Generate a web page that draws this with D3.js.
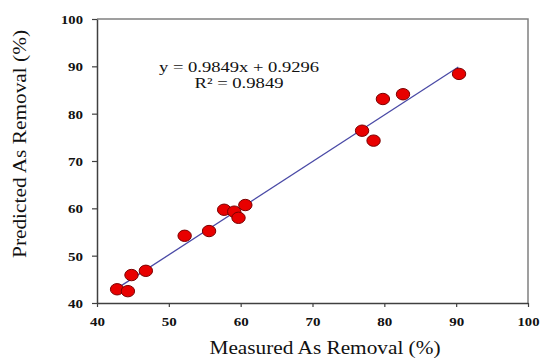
<!DOCTYPE html>
<html>
<head>
<meta charset="utf-8">
<script src="https://cdn.jsdelivr.net/npm/d3@7"></script>
<style>
  html, body { margin: 0; padding: 0; background: #fff; }
  svg { display: block; }
  svg text { font-family: "Liberation Serif", "Times New Roman", Times, serif; }
</style>
</head>
<body>
<svg id="chart" width="540" height="358"></svg>
<script>
// ---- data ----
const measured  = [42.8, 44.3, 44.8, 46.8, 52.2, 55.6, 57.7, 59.1, 59.7, 60.65, 76.9, 78.5, 79.8, 82.6, 90.4];
const predicted = [42.9, 42.5, 45.9, 46.8, 54.2, 55.2, 59.7, 59.3, 58.0, 60.7, 76.4, 74.3, 83.1, 84.1, 88.4];
const xTicks = [40, 50, 60, 70, 80, 90, 100];
const yTicks = [40, 50, 60, 70, 80, 90, 100];
const slope = 0.9849, intercept = 0.9296;
const fitRange = [42.8, 90.3];
const equationLines = ["y = 0.9849x + 0.9296", "R\u00B2 = 0.9849"];
const xTitle = "Measured As Removal (%)";
const yTitle = "Predicted As Removal (%)";

// ---- layout ----
const svg = d3.select("#chart");
const L = 97, T = 19, R = 528, B = 303;
const x = d3.scaleLinear().domain([40, 100]).range([L, R]);
const y = d3.scaleLinear().domain([40, 100]).range([B, T]);
const serif = "Liberation Serif, Times New Roman, Times, serif";

// frame (top & right)
svg.append("path")
  .attr("d", `M${L},${T}H${R}V${B}`)
  .attr("fill", "none").attr("stroke", "#808080").attr("stroke-width", 1.5);

// axes
const xAxis = svg.append("g").attr("transform", `translate(0,${B})`)
  .call(d3.axisBottom(x).tickValues(xTicks).tickSize(4).tickSizeOuter(0));
const yAxis = svg.append("g").attr("transform", `translate(${L},0)`)
  .call(d3.axisLeft(y).tickValues(yTicks).tickSize(5).tickSizeOuter(0));

[xAxis, yAxis].forEach(g => {
  g.attr("font-family", serif);
  g.select(".domain").attr("stroke", "#404040").attr("stroke-width", 1.5);
  g.selectAll(".tick line").attr("stroke", "#404040").attr("stroke-width", 1.2);
  g.selectAll("text")
    .style("font-family", serif).attr("font-weight", "bold")
    .attr("font-size", 13).attr("fill", "#111")
    .attr("textLength", d => String(d).length === 3 ? 22 : 15)
    .attr("lengthAdjust", "spacingAndGlyphs");
});
xAxis.selectAll("text").attr("y", 14).attr("dy", "0.71em");
yAxis.selectAll("text").attr("x", -14).attr("dy", "0.34em");

// fit line
svg.append("line")
  .attr("x1", x(fitRange[0])).attr("y1", y(slope * fitRange[0] + intercept))
  .attr("x2", x(fitRange[1])).attr("y2", y(slope * fitRange[1] + intercept))
  .attr("stroke", "#4a4aa6").attr("stroke-width", 1.3);

// points
svg.append("g").selectAll("ellipse")
  .data(measured.map((m, i) => [m, predicted[i]]))
  .join("ellipse")
  .attr("cx", d => x(d[0])).attr("cy", d => y(d[1]))
  .attr("rx", 6.7).attr("ry", 5.7)
  .attr("fill", "#e80000").attr("stroke", "#7a0000").attr("stroke-width", 1);

// equation
svg.append("text").attr("x", 239).attr("y", 72)
  .attr("text-anchor", "middle").style("font-family", serif).attr("font-size", 14.5)
  .attr("fill", "#111").attr("textLength", 160).attr("lengthAdjust", "spacingAndGlyphs")
  .text(equationLines[0]);
svg.append("text").attr("x", 239).attr("y", 88)
  .attr("text-anchor", "middle").style("font-family", serif).attr("font-size", 14.5)
  .attr("fill", "#111").attr("textLength", 89).attr("lengthAdjust", "spacingAndGlyphs")
  .text(equationLines[1]);

// axis titles
svg.append("text").attr("x", 325).attr("y", 354)
  .attr("text-anchor", "middle").style("font-family", serif).attr("font-size", 19)
  .attr("fill", "#111").attr("textLength", 231).attr("lengthAdjust", "spacingAndGlyphs")
  .text(xTitle);
svg.append("text").attr("transform", "translate(26,144) rotate(-90)")
  .attr("text-anchor", "middle").style("font-family", serif).attr("font-size", 19)
  .attr("fill", "#111").attr("textLength", 228).attr("lengthAdjust", "spacingAndGlyphs")
  .text(yTitle);
</script>
</body>
</html>
